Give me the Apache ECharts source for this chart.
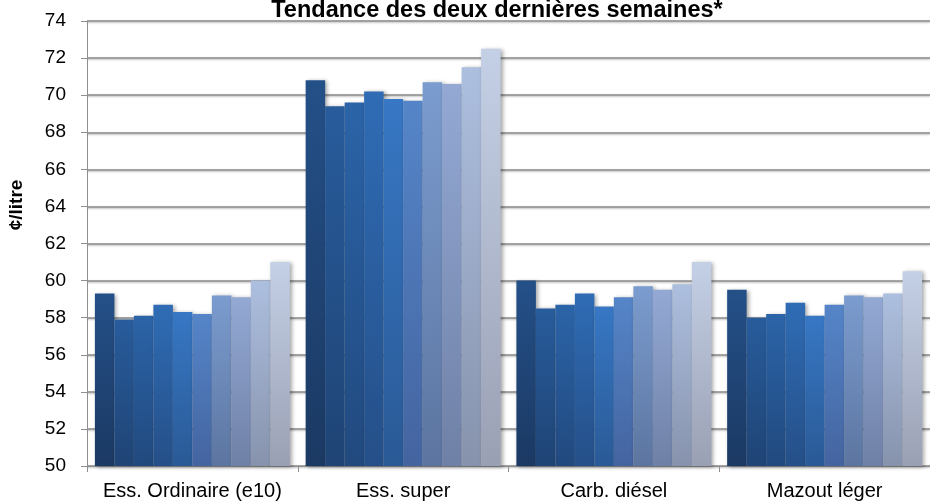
<!DOCTYPE html>
<html><head><meta charset="utf-8">
<script src="https://cdn.jsdelivr.net/npm/echarts@6/dist/echarts.min.js"></script>
<style>html,body{margin:0;padding:0;background:#fff}#c{width:930px;height:503px}</style>
</head><body><div id="c"></div>
<script>
const categories = ['Ess. Ordinaire (e10)', 'Ess. super', 'Carb. diésel', 'Mazout léger'];
const seriesNames = ['J1','J2','J3','J4','J5','J6','J7','J8','J9','J10'];
const s1  = [59.3, 70.8, 60.0, 59.5];
const s2  = [57.9, 69.4, 58.5, 58.0];
const s3  = [58.1, 69.6, 58.7, 58.2];
const s4  = [58.7, 70.2, 59.3, 58.8];
const s5  = [58.3, 69.8, 58.6, 58.1];
const s6  = [58.2, 69.7, 59.1, 58.7];
const s7  = [59.2, 70.7, 59.7, 59.2];
const s8  = [59.1, 70.6, 59.5, 59.1];
const s9  = [60.0, 71.5, 59.8, 59.3];
const s10 = [61.0, 72.5, 61.0, 60.5];
const allSeries = [s1,s2,s3,s4,s5,s6,s7,s8,s9,s10];
const topColors = ['#245088','#285c9c','#2b64a8','#2f6cb5','#3777c4','#5585c8','#7b9ccf','#93a9d4','#adbfdf','#c4d0e6'];
const botColors = ['#1b3963','#1f4475','#21497e','#254f88','#2a5a96','#4464a0','#5c75a0','#6f80a6','#8793ad','#9aa0b4'];

const chart = echarts.init(document.getElementById('c'));
const font = '"Liberation Sans", Arial, sans-serif';
chart.setOption({
  animation: false,
  title: {
    text: 'Tendance des deux dernières semaines*',
    left: 492, top: -6, textAlign: 'center',
    textStyle: {fontFamily: font, fontWeight: 'bold', fontSize: 23.5, color: '#000'}
  },
  graphic: [{
    type: 'text', x: 17, y: 205, rotation: Math.PI / 2,
    style: {text: '¢/litre', font: 'bold 19px ' + font, fill: '#000', align: 'center', verticalAlign: 'middle'}
  }],
  grid: {left: 87, top: 21, bottom: 37, width: 844},
  xAxis: {
    type: 'category', data: categories,
    axisLine: {lineStyle: {color: '#8f8f8f', width: 1}},
    axisTick: {show: true, interval: 0, length: 6, lineStyle: {color: '#8f8f8f'}},
    axisLabel: {interval: 0, hideOverlap: false, fontFamily: font, fontSize: 20, color: '#000', margin: 15}
  },
  yAxis: {
    type: 'value', min: 50, max: 74, interval: 2,
    axisLine: {show: true, lineStyle: {color: '#8f8f8f', width: 1}},
    axisTick: {show: true, length: 6, lineStyle: {color: '#8f8f8f'}},
    axisLabel: {fontFamily: font, fontSize: 19, color: '#000', margin: 21},
    splitLine: {lineStyle: {color: '#8a8a8a', width: 1.5, shadowColor: 'rgba(0,0,0,0.3)', shadowBlur: 2, shadowOffsetY: 1}}
  },
  series: allSeries.map((d, i) => ({
    name: seriesNames[i], type: 'bar', data: d,
    barGap: 0, barCategoryGap: '7.5%',
    itemStyle: {
      color: new echarts.graphic.LinearGradient(0, 0, 0, 1, [
        {offset: 0, color: topColors[i]}, {offset: 1, color: botColors[i]}
      ]),
      shadowColor: 'rgba(0,0,0,0.35)', shadowBlur: 4, shadowOffsetX: 2, shadowOffsetY: 1
    }
  }))
});
</script></body></html>
